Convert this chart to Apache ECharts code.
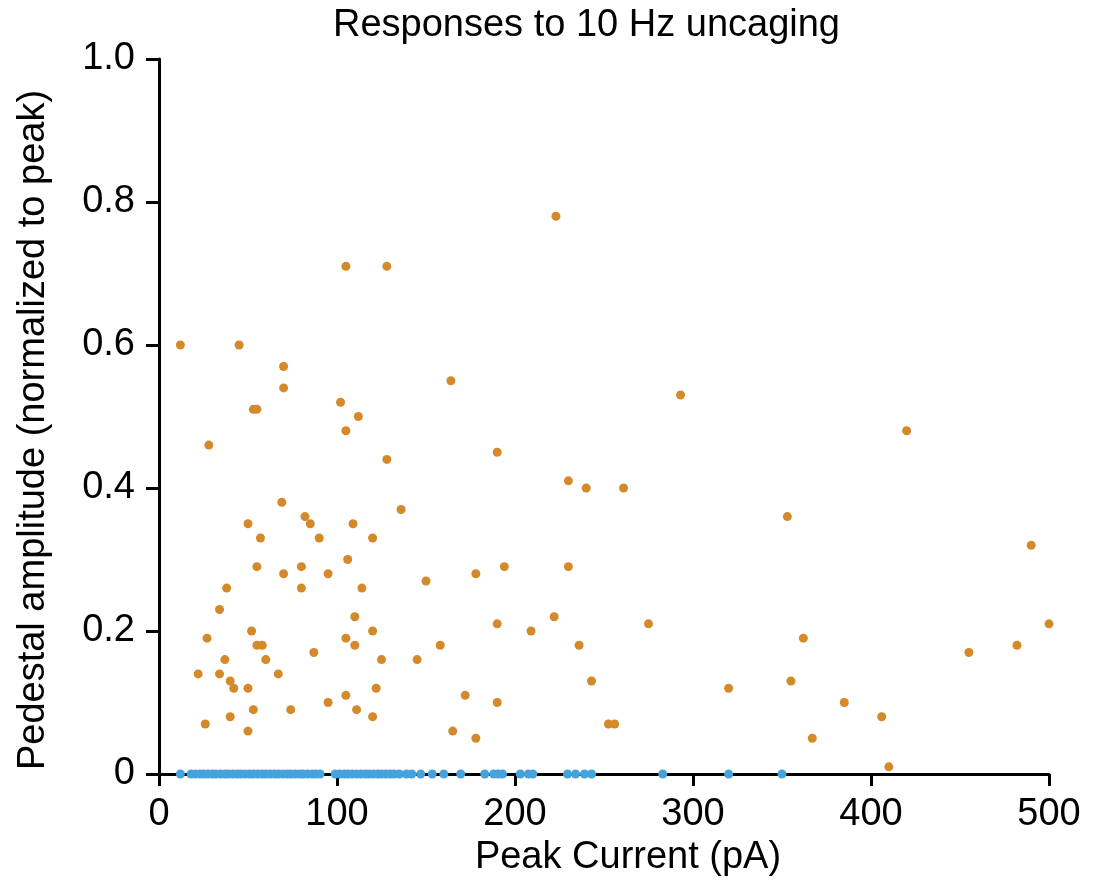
<!DOCTYPE html>
<html lang="en">
<head>
    <meta charset="UTF-8">
    <title>Responses to 10 Hz uncaging</title>
    <style>
        body {
            margin: 0;
            background: #ffffff;
        }
    </style>
</head>
<body>
<div id="chart-canvas" style="width: 1093px;height:884px;"></div>
<script src="https://cdn.jsdelivr.net/npm/echarts@6/dist/echarts.min.js"></script>
<script type="text/javascript">
    // cells with a pedestal response: [peak current pA, normalized amplitude]
    const pedestalPoints = [
        [12, 0.60], [45, 0.60], [70, 0.57], [70, 0.54], [53, 0.51], [55, 0.51], [102, 0.52], [28, 0.46],
        [69, 0.38], [82, 0.36], [85, 0.35], [50, 0.35], [57, 0.33], [90, 0.33],
        [55, 0.29], [70, 0.28], [80, 0.29], [95, 0.28], [80, 0.26], [38, 0.26], [34, 0.23], [52, 0.20],
        [27, 0.19], [55, 0.18], [58, 0.18], [37, 0.16], [60, 0.16], [87, 0.17], [22, 0.14], [34, 0.14],
        [67, 0.14], [40, 0.13], [42, 0.12], [50, 0.12], [95, 0.10], [53, 0.09], [74, 0.09], [26, 0.07],
        [40, 0.08], [50, 0.06],
        [105, 0.71], [128, 0.71], [164, 0.55], [112, 0.50], [105, 0.48], [128, 0.44], [190, 0.45],
        [136, 0.37], [109, 0.35], [120, 0.33],
        [106, 0.30], [114, 0.26], [150, 0.27], [178, 0.28], [194, 0.29], [110, 0.22], [120, 0.20],
        [105, 0.19], [110, 0.18], [125, 0.16], [145, 0.16], [158, 0.18], [190, 0.21], [209, 0.20],
        [122, 0.12], [105, 0.11], [111, 0.09], [120, 0.08], [172, 0.11], [190, 0.10], [165, 0.06], [178, 0.05],
        [223, 0.78], [293, 0.53], [230, 0.41], [240, 0.40], [261, 0.40], [353, 0.36], [230, 0.29],
        [222, 0.22], [236, 0.18], [275, 0.21], [243, 0.13], [252.5, 0.07], [256, 0.07], [320, 0.12], [355, 0.13],
        [420, 0.48], [490, 0.32], [362, 0.19], [500, 0.21], [455, 0.17], [482, 0.18], [385, 0.10],
        [406, 0.08], [367, 0.05], [410, 0.01]
    ];

    // cells with no pedestal (amplitude 0): peak current pA
    const noPedestalCurrents = [
        12, 18, 20.5, 23, 25, 27.5, 30, 32, 34.5, 37, 39, 41.5, 44, 46, 48.5, 51, 53, 55.5, 58, 60,
        62.5, 65, 67, 69.5, 72, 74, 76.5, 79, 81, 83.5, 86, 88, 90.5,
        99, 101.5, 104, 106, 108.5, 111, 113.5, 116, 118, 120.5, 123, 125, 127.5, 130, 132, 135,
        139, 142, 147, 153.5, 160, 169.5, 183, 188, 190.5, 193, 203, 207.5, 210,
        229.5, 234, 239, 243, 283, 320, 350
    ];

    const xTicks = [0, 100, 200, 300, 400, 500];
    const yTicks = [0, 0.2, 0.4, 0.6, 0.8, 1.0];

    const fontFamily = '"Liberation Sans", Arial, Helvetica, sans-serif';
    const axisCommon = {
        axisLine: {lineStyle: {color: '#000', width: 3}},
        axisTick: {lineStyle: {color: '#000', width: 3}},
        splitLine: {show: false},
        nameLocation: 'middle',
        nameTextStyle: {fontFamily: fontFamily, fontSize: 38, color: '#000'}
    };

    let myChart = echarts.init(document.getElementById('chart-canvas'));
    myChart.setOption({
        animation: false,
        title: {
            text: 'Responses to 10 Hz uncaging',
            left: 333,
            top: 7,
            padding: 0,
            textStyle: {fontFamily: fontFamily, fontSize: 38, fontWeight: 'normal', color: '#000'}
        },
        grid: {left: 153, right: 44, top: 59, bottom: 106},
        xAxis: Object.assign({}, axisCommon, {
            type: 'value',
            min: -3.37,
            max: 500,
            name: 'Peak Current (pA)',
            nameGap: 60,
            nameTextStyle: Object.assign({}, axisCommon.nameTextStyle, {padding: [0, 0, 0, 54]}),
            axisTick: {length: 12, lineStyle: {color: '#000', width: 3}, customValues: xTicks},
            axisLabel: {
                customValues: xTicks, margin: 18,
                fontFamily: fontFamily, fontSize: 38, color: '#000'
            }
        }),
        yAxis: Object.assign({}, axisCommon, {
            type: 'value',
            min: -0.0056,
            max: 1.0,
            name: 'Pedestal amplitude (normalized to peak)',
            nameGap: 100,
            nameTextStyle: Object.assign({}, axisCommon.nameTextStyle, {padding: [0, 23, 0, 0]}),
            axisTick: {length: 13, lineStyle: {color: '#000', width: 3}, customValues: yTicks},
            axisLabel: {
                customValues: yTicks, margin: 18,
                fontFamily: fontFamily, fontSize: 38, color: '#000',
                formatter: v => v === 0 ? '0' : v.toFixed(1)
            }
        }),
        series: [
            {
                type: 'scatter',
                data: pedestalPoints,
                symbolSize: 9,
                itemStyle: {color: '#d4892b', opacity: 1}
            },
            {
                type: 'scatter',
                data: noPedestalCurrents.map(x => [x, 0]),
                symbolSize: 9,
                itemStyle: {color: '#45a2dc', opacity: 1}
            }
        ]
    });
</script>
</body>
</html>
